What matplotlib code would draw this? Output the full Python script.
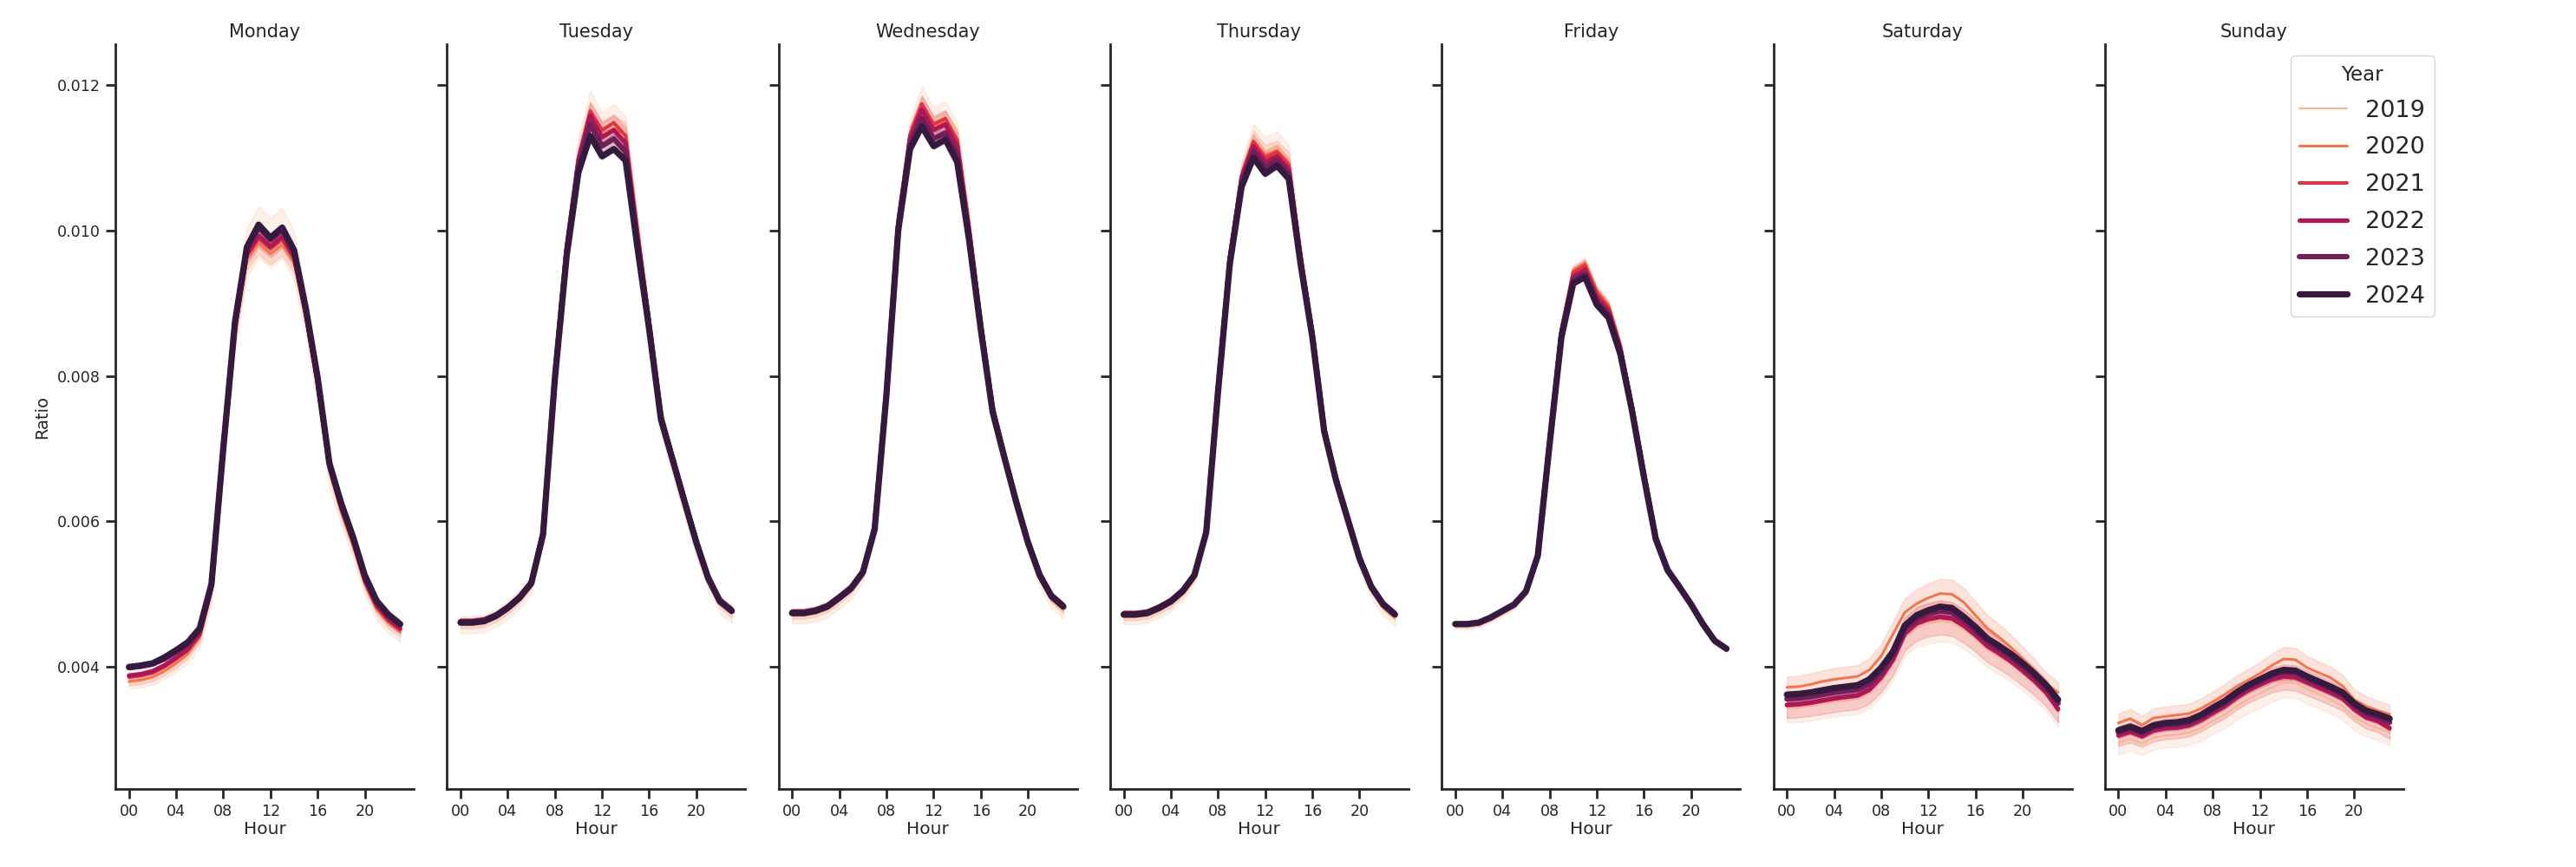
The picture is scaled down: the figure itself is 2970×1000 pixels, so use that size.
import matplotlib
matplotlib.use("Agg")
import matplotlib.pyplot as plt
import numpy as np

# ---------------- data (Ratio values in units of 1e-4) ----------------
UNIT = 1e-4
HOURS = list(range(24))
HOUR_TICKS = [0, 4, 8, 12, 16, 20]
HOUR_LABELS = ["00", "04", "08", "12", "16", "20"]
DAYS = ["Monday", "Tuesday", "Wednesday", "Thursday", "Friday", "Saturday", "Sunday"]
YEARS = [2019, 2020, 2021, 2022, 2023, 2024]

monday = {
    2019: [38.4, 38.5, 38.9, 39.7, 40.8, 42.0, 44.2, 50.5, 69.0, 86.5, 97.0, 99.8, 98.3, 99.6, 96.5, 88.4, 78.8, 67.0, 61.5, 56.9, 51.6, 48.2, 46.3, 45.0],
    2020: [38.0, 38.2, 38.6, 39.4, 40.5, 41.8, 44.0, 50.4, 68.8, 85.9, 96.0, 98.2, 96.8, 98.0, 95.6, 88.0, 78.6, 67.0, 61.3, 56.7, 51.4, 47.9, 46.0, 44.8],
    2021: [38.6, 38.8, 39.2, 40.0, 41.1, 42.3, 44.4, 50.8, 69.4, 86.5, 96.5, 98.9, 97.5, 98.8, 96.1, 88.4, 79.0, 67.4, 61.8, 57.2, 51.8, 48.3, 46.4, 45.1],
    2022: [38.8, 39.0, 39.4, 40.2, 41.3, 42.5, 44.6, 51.0, 69.6, 86.8, 96.8, 99.3, 97.8, 99.2, 96.4, 88.6, 79.2, 67.6, 62.0, 57.4, 52.0, 48.5, 46.6, 45.3],
    2023: [39.9, 40.1, 40.4, 41.1, 42.1, 43.2, 45.1, 51.3, 70.0, 87.4, 97.5, 100.4, 98.7, 100.1, 97.0, 89.1, 79.6, 67.9, 62.4, 57.8, 52.5, 49.0, 47.1, 45.8],
    2024: [40.0, 40.2, 40.5, 41.3, 42.3, 43.4, 45.3, 51.4, 70.0, 87.5, 97.7, 100.8, 99.0, 100.4, 97.3, 89.3, 79.8, 68.0, 62.5, 57.9, 52.6, 49.1, 47.2, 45.9],
}
tuesday = {
    2019: [45.8, 45.8, 46.0, 46.7, 47.8, 49.3, 51.3, 58.3, 80.0, 97.5, 110.0, 116.2, 113.2, 114.4, 112.6, 99.8, 87.0, 74.0, 68.0, 62.2, 56.6, 51.8, 48.6, 47.3],
    2020: [46.0, 46.0, 46.2, 46.9, 48.0, 49.5, 51.5, 58.5, 80.2, 97.8, 110.2, 116.0, 113.2, 114.0, 113.2, 100.2, 87.4, 74.4, 68.4, 62.6, 56.9, 52.0, 48.8, 47.5],
    2021: [46.2, 46.2, 46.4, 47.1, 48.2, 49.6, 51.6, 58.6, 80.4, 98.0, 110.0, 116.4, 113.8, 114.8, 113.0, 100.0, 87.6, 74.7, 68.8, 63.0, 57.3, 52.4, 49.1, 47.8],
    2022: [46.3, 46.3, 46.5, 47.2, 48.3, 49.7, 51.7, 58.6, 80.2, 97.6, 109.6, 115.8, 112.8, 113.8, 112.0, 99.2, 87.2, 74.5, 68.7, 63.0, 57.4, 52.5, 49.2, 47.9],
    2023: [46.2, 46.2, 46.4, 47.1, 48.2, 49.6, 51.6, 58.4, 79.8, 97.0, 108.8, 114.6, 111.6, 112.6, 110.8, 98.5, 86.8, 74.2, 68.5, 62.8, 57.2, 52.3, 49.1, 47.8],
    2024: [46.1, 46.1, 46.3, 47.0, 48.1, 49.5, 51.5, 58.2, 79.6, 96.5, 108.0, 113.0, 110.2, 111.2, 109.6, 97.7, 86.4, 74.0, 68.4, 62.7, 57.1, 52.2, 49.0, 47.7],
}
wednesday = {
    2019: [47.0, 47.0, 47.3, 47.9, 49.1, 50.5, 52.7, 58.9, 77.8, 101.0, 113.0, 117.2, 114.4, 115.2, 112.4, 100.4, 87.2, 75.2, 68.5, 62.3, 56.7, 52.1, 49.1, 47.7],
    2020: [47.2, 47.2, 47.5, 48.1, 49.3, 50.7, 52.9, 59.1, 78.0, 101.2, 113.0, 117.0, 114.2, 115.0, 112.6, 100.8, 87.6, 75.6, 68.9, 62.7, 57.0, 52.4, 49.4, 48.0],
    2021: [47.5, 47.5, 47.8, 48.4, 49.6, 50.9, 53.1, 59.3, 78.2, 101.4, 113.2, 117.4, 114.6, 115.4, 112.4, 100.6, 87.6, 75.8, 69.2, 63.0, 57.4, 52.8, 49.8, 48.4],
    2022: [47.6, 47.6, 47.9, 48.5, 49.7, 51.0, 53.2, 59.3, 78.0, 101.0, 112.6, 116.6, 113.8, 114.6, 111.6, 100.0, 87.2, 75.6, 69.1, 63.0, 57.4, 52.8, 49.9, 48.5],
    2023: [47.5, 47.5, 47.8, 48.4, 49.6, 50.9, 53.1, 59.1, 77.6, 100.4, 111.8, 115.4, 112.6, 113.4, 110.4, 99.4, 86.8, 75.3, 68.9, 62.8, 57.2, 52.7, 49.8, 48.4],
    2024: [47.4, 47.4, 47.7, 48.3, 49.5, 50.8, 53.0, 58.9, 77.4, 100.0, 111.2, 114.3, 111.6, 112.5, 109.4, 98.8, 86.4, 75.1, 68.8, 62.7, 57.1, 52.6, 49.7, 48.3],
}
thursday = {
    2019: [46.8, 46.8, 47.0, 47.7, 48.6, 50.1, 52.3, 58.4, 78.0, 96.0, 107.4, 112.4, 110.6, 111.4, 109.6, 96.6, 85.6, 72.4, 65.4, 59.8, 54.4, 50.4, 48.0, 46.6],
    2020: [47.0, 47.0, 47.2, 47.9, 48.8, 50.3, 52.5, 58.6, 78.2, 96.2, 107.6, 112.4, 110.4, 111.0, 109.4, 96.8, 86.0, 72.8, 65.8, 60.2, 54.8, 50.8, 48.4, 47.0],
    2021: [47.3, 47.3, 47.5, 48.2, 49.1, 50.5, 52.7, 58.8, 78.4, 96.4, 107.6, 112.2, 110.0, 110.8, 109.0, 96.6, 86.0, 72.9, 66.0, 60.5, 55.1, 51.1, 48.7, 47.3],
    2022: [47.4, 47.4, 47.6, 48.3, 49.2, 50.6, 52.8, 58.8, 78.3, 96.2, 107.2, 111.6, 109.4, 110.2, 108.4, 96.2, 85.8, 72.8, 66.0, 60.5, 55.1, 51.2, 48.8, 47.4],
    2023: [47.3, 47.3, 47.5, 48.2, 49.1, 50.5, 52.7, 58.6, 78.0, 95.8, 106.6, 110.8, 108.6, 109.6, 107.8, 95.8, 85.6, 72.6, 65.8, 60.4, 55.0, 51.1, 48.7, 47.3],
    2024: [47.2, 47.2, 47.4, 48.1, 49.0, 50.4, 52.6, 58.5, 77.8, 95.4, 106.0, 110.0, 107.8, 108.9, 107.1, 95.4, 85.3, 72.4, 65.7, 60.3, 54.9, 51.0, 48.6, 47.2],
}
friday = {
    2019: [45.6, 45.6, 45.8, 46.5, 47.4, 48.3, 50.1, 55.3, 71.1, 86.4, 94.4, 95.4, 91.6, 89.6, 84.2, 75.9, 66.6, 57.8, 53.3, 50.9, 48.4, 45.7, 43.4, 42.3],
    2020: [45.7, 45.7, 45.9, 46.6, 47.5, 48.4, 50.2, 55.4, 71.3, 86.6, 94.6, 95.6, 91.8, 89.8, 84.4, 76.1, 66.8, 58.0, 53.5, 51.1, 48.6, 45.9, 43.6, 42.5],
    2021: [45.8, 45.8, 46.0, 46.7, 47.6, 48.5, 50.3, 55.5, 71.2, 86.4, 94.2, 95.2, 91.4, 89.4, 84.1, 75.9, 66.7, 58.0, 53.6, 51.2, 48.7, 46.0, 43.7, 42.6],
    2022: [45.9, 45.9, 46.1, 46.8, 47.7, 48.6, 50.4, 55.5, 71.0, 86.0, 93.6, 94.6, 90.8, 88.9, 83.7, 75.6, 66.5, 57.9, 53.5, 51.2, 48.7, 46.0, 43.7, 42.6],
    2023: [45.9, 45.9, 46.1, 46.8, 47.7, 48.6, 50.4, 55.4, 70.8, 85.6, 93.1, 94.0, 90.2, 88.4, 83.3, 75.3, 66.3, 57.7, 53.4, 51.1, 48.6, 45.9, 43.6, 42.5],
    2024: [45.9, 45.9, 46.1, 46.8, 47.7, 48.6, 50.4, 55.3, 70.6, 85.3, 92.7, 93.6, 89.8, 88.0, 83.0, 75.1, 66.1, 57.6, 53.3, 51.0, 48.6, 45.9, 43.6, 42.5],
}
saturday = {
    2019: [34.4, 34.5, 34.7, 35.0, 35.3, 35.5, 35.7, 36.5, 38.2, 40.6, 44.2, 45.5, 46.0, 46.3, 46.1, 45.2, 43.9, 42.5, 41.5, 40.4, 39.1, 37.7, 36.1, 33.8],
    2020: [37.2, 37.3, 37.6, 38.0, 38.3, 38.5, 38.7, 39.6, 41.5, 44.5, 47.5, 48.7, 49.5, 50.1, 50.0, 48.9, 47.1, 45.3, 44.1, 42.7, 41.1, 39.5, 37.7, 36.5],
    2021: [34.7, 34.8, 35.0, 35.3, 35.6, 35.8, 36.0, 36.8, 38.5, 40.9, 44.5, 45.9, 46.5, 46.8, 46.6, 45.6, 44.3, 42.8, 41.8, 40.7, 39.4, 38.0, 36.4, 34.1],
    2022: [34.8, 34.9, 35.1, 35.4, 35.7, 35.9, 36.1, 36.9, 38.6, 41.0, 44.6, 46.0, 46.6, 46.9, 46.7, 45.7, 44.4, 42.9, 41.9, 40.8, 39.5, 38.1, 36.5, 34.2],
    2023: [35.6, 35.7, 35.9, 36.2, 36.5, 36.7, 36.9, 37.7, 39.3, 41.6, 45.2, 46.6, 47.3, 47.7, 47.5, 46.4, 45.0, 43.5, 42.5, 41.4, 40.1, 38.7, 37.1, 35.0],
    2024: [36.2, 36.3, 36.5, 36.8, 37.1, 37.3, 37.5, 38.3, 39.9, 42.1, 45.7, 47.1, 47.8, 48.3, 48.1, 46.9, 45.5, 43.9, 42.9, 41.8, 40.5, 39.1, 37.5, 35.5],
}
sunday = {
    2019: [29.6, 30.1, 29.5, 30.3, 30.6, 30.7, 31.0, 31.6, 32.6, 33.4, 34.6, 35.6, 36.4, 37.2, 37.9, 37.8, 37.0, 36.3, 35.5, 34.6, 33.1, 32.2, 31.6, 31.0],
    2020: [32.3, 32.9, 32.0, 33.0, 33.2, 33.4, 33.6, 34.3, 35.2, 36.2, 37.3, 38.2, 39.1, 40.2, 41.1, 41.0, 39.9, 39.2, 38.5, 37.4, 35.5, 34.6, 34.0, 33.5],
    2021: [30.5, 31.0, 30.4, 31.2, 31.5, 31.6, 31.9, 32.6, 33.6, 34.5, 35.7, 36.7, 37.5, 38.2, 38.6, 38.5, 37.8, 37.1, 36.4, 35.6, 34.1, 33.0, 32.5, 31.5],
    2022: [30.6, 31.1, 30.5, 31.3, 31.6, 31.7, 32.0, 32.7, 33.7, 34.6, 35.8, 36.8, 37.6, 38.3, 38.7, 38.6, 37.9, 37.2, 36.5, 35.7, 34.2, 33.1, 32.6, 31.6],
    2023: [31.0, 31.5, 30.9, 31.7, 32.0, 32.1, 32.4, 33.1, 34.1, 35.0, 36.2, 37.2, 38.0, 38.8, 39.3, 39.2, 38.4, 37.7, 37.0, 36.2, 34.7, 33.6, 33.1, 32.4],
    2024: [31.3, 31.8, 31.2, 32.0, 32.3, 32.4, 32.7, 33.4, 34.4, 35.3, 36.5, 37.5, 38.3, 39.1, 39.6, 39.5, 38.7, 38.0, 37.3, 36.5, 35.0, 34.0, 33.5, 32.9],
}
DAY_DATA = [monday, tuesday, wednesday, thursday, friday, saturday, sunday]

# relative half-width of the confidence band, per year, per day (Mon..Sun)
CI_REL = {
    2019: [0.035, 0.026, 0.022, 0.020, 0.008, 0.060, 0.055],
    2020: [0.015, 0.015, 0.012, 0.012, 0.006, 0.040, 0.040],
    2021: [0.012, 0.010, 0.010, 0.009, 0.006, 0.050, 0.045],
    2022: [0.009, 0.009, 0.008, 0.008, 0.005, 0.012, 0.012],
    2023: [0.006, 0.006, 0.006, 0.006, 0.004, 0.010, 0.010],
    2024: [0.004, 0.004, 0.004, 0.004, 0.003, 0.006, 0.006],
}

# ---------------- style ----------------
COLORS = {2019: "#f6b48f", 2020: "#f37651", 2021: "#e13342",
          2022: "#ad1759", 2023: "#701f57", 2024: "#35193e"}
WIDTHS = {2019: 1.5, 2020: 2.2, 2021: 2.9, 2022: 3.7, 2023: 4.4, 2024: 5.2}
TXT = "#262626"

plt.rcParams.update({
    "font.family": ["DejaVu Sans"],
    "text.color": TXT,
    "axes.labelcolor": TXT,
    "xtick.color": TXT,
    "ytick.color": TXT,
    "axes.edgecolor": TXT,
    "lines.solid_capstyle": "round",
})

fig = plt.figure(figsize=(29.7, 10), dpi=100)
LEFT, WIDTH, PITCH = 133 / 2970, 344 / 2970, 382.3 / 2970
BOTTOM, HEIGHT = 0.09, 0.859
YLIM = (0.002323, 0.01256)

axes = []
for i, (day, data) in enumerate(zip(DAYS, DAY_DATA)):
    ax = fig.add_axes([LEFT + i * PITCH, BOTTOM, WIDTH, HEIGHT])
    axes.append(ax)
    x = np.array(HOURS)
    for yr in YEARS:
        y = np.array(data[yr]) * UNIT
        half = y * CI_REL[yr][i]
        ax.fill_between(x, y - half, y + half, color=COLORS[yr], alpha=0.2, linewidth=1.0)
        ax.plot(x, y, color=COLORS[yr], lw=WIDTHS[yr], label=str(yr))
    ax.set_xlim(-1.15, 24.15)
    ax.set_ylim(*YLIM)
    ax.set_xticks(HOUR_TICKS)
    ax.set_xticklabels(HOUR_LABELS)
    ax.set_yticks([0.004, 0.006, 0.008, 0.010, 0.012])
    if i == 0:
        ax.set_yticklabels(["0.004", "0.006", "0.008", "0.010", "0.012"])
        ax.set_ylabel("Ratio", fontsize=14, labelpad=6)
    else:
        ax.tick_params(axis="y", labelleft=False)
    ax.set_xlabel("Hour", fontsize=14.5, labelpad=2)
    ax.set_title(day, fontsize=15, pad=6)
    for s in ("top", "right"):
        ax.spines[s].set_visible(False)
    for s in ("left", "bottom"):
        ax.spines[s].set_linewidth(2.0)
    ax.tick_params(axis="both", which="major", labelsize=12.6, length=8, width=2.0, pad=4)

handles, labels = axes[-1].get_legend_handles_labels()
leg = fig.legend(handles, labels, title="Year", loc="upper right",
                 bbox_to_anchor=(2807 / 2970, 1 - 64 / 1000), borderaxespad=0,
                 fontsize=19.5, title_fontsize=16.5, frameon=True, fancybox=True,
                 framealpha=0.8, edgecolor="0.8", handlelength=2.0, labelspacing=0.62)

fig.savefig("out.png", dpi=100)
